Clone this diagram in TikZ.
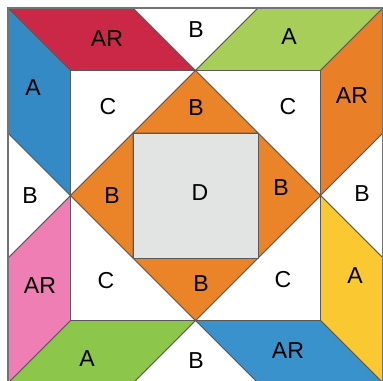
\documentclass[tikz,border=0pt]{standalone}
\usepackage{fontspec}
\setmainfont{Liberation Sans}
\definecolor{redAR}{RGB}{203,40,72}
\definecolor{blueA}{RGB}{52,138,196}
\definecolor{limeA}{RGB}{166,206,88}
\definecolor{orangeAR}{RGB}{233,128,40}
\definecolor{yellowA}{RGB}{250,200,48}
\definecolor{blueAR}{RGB}{58,146,204}
\definecolor{greenA}{RGB}{140,198,74}
\definecolor{pinkAR}{RGB}{238,126,180}
\definecolor{orangeB}{RGB}{235,132,40}
\definecolor{greyD}{RGB}{226,228,228}

\begin{document}
\begin{tikzpicture}[x=1cm,y=1cm,
  piece/.style={draw=black!65, line width=0.4pt, line join=round},
  lbl/.style={font=\fontsize{10.5}{12}\selectfont, inner sep=0pt}]
\useasboundingbox (-0.128,0.032) rectangle (6.0,6.128);
\fill[white] (-0.128,0.032) rectangle (6.0,6.128);
% outer ring, top
\filldraw[piece, fill=redAR] (0,6) -- (2,6) -- (3,5) -- (1,5) -- cycle;
\filldraw[piece, fill=white] (2,6) -- (4,6) -- (3,5) -- cycle;
\filldraw[piece, fill=limeA] (4,6) -- (6,6) -- (5,5) -- (3,5) -- cycle;
% right
\filldraw[piece, fill=orangeAR] (6,6) -- (6,4) -- (5,3) -- (5,5) -- cycle;
\filldraw[piece, fill=white] (6,4) -- (6,2) -- (5,3) -- cycle;
\filldraw[piece, fill=yellowA] (5,3) -- (6,2) -- (6,0) -- (5,1) -- cycle;
% bottom
\filldraw[piece, fill=blueAR] (6,0) -- (4,0) -- (3,1) -- (5,1) -- cycle;
\filldraw[piece, fill=white] (4,0) -- (2,0) -- (3,1) -- cycle;
\filldraw[piece, fill=greenA] (3,1) -- (2,0) -- (0,0) -- (1,1) -- cycle;
% left
\filldraw[piece, fill=pinkAR] (0,0) -- (0,2) -- (1,3) -- (1,1) -- cycle;
\filldraw[piece, fill=white] (0,2) -- (0,4) -- (1,3) -- cycle;
\filldraw[piece, fill=blueA] (1,3) -- (0,4) -- (0,6) -- (1,5) -- cycle;
% square in a square
\filldraw[piece, fill=white] (1,5) -- (3,5) -- (1,3) -- cycle;
\filldraw[piece, fill=white] (3,5) -- (5,5) -- (5,3) -- cycle;
\filldraw[piece, fill=white] (5,3) -- (5,1) -- (3,1) -- cycle;
\filldraw[piece, fill=white] (3,1) -- (1,1) -- (1,3) -- cycle;
\filldraw[piece, fill=orangeB] (2,4) -- (4,4) -- (3,5) -- cycle;
\filldraw[piece, fill=orangeB] (4,4) -- (4,2) -- (5,3) -- cycle;
\filldraw[piece, fill=orangeB] (4,2) -- (2,2) -- (3,1) -- cycle;
\filldraw[piece, fill=orangeB] (2,2) -- (2,4) -- (1,3) -- cycle;
\filldraw[piece, fill=greyD] (2,2) rectangle (4,4);
\draw[line width=0.8pt, black!55] (0,0) rectangle (6,6);
% labels
\node[lbl] (arTop) at (1.584,5.504) {AR};
\node[lbl] (bTop) at (3.008,5.648) {B};
\node[lbl] (aTop) at (4.496,5.536) {A};
\node[lbl] (aLeft) at (0.400,4.720) {A};
\node[lbl] (cTL) at (1.600,4.416) {C};
\node[lbl] (bInTop) at (3.008,4.400) {B};
\node[lbl] (cTR) at (4.480,4.416) {C};
\node[lbl] (arRight) at (5.504,4.592) {AR};
\node[lbl] (bLeft) at (0.352,2.992) {B};
\node[lbl] (bInLeft) at (1.664,2.992) {B};
\node[lbl] (dMid) at (3.072,3.040) {D};
\node[lbl] (bInRight) at (4.368,3.120) {B};
\node[lbl] (bRight) at (5.664,3.024) {B};
\node[lbl] (arLeft) at (0.512,1.552) {AR};
\node[lbl] (cBL) at (1.568,1.632) {C};
\node[lbl] (bInBot) at (3.088,1.584) {B};
\node[lbl] (cBR) at (4.400,1.648) {C};
\node[lbl] (aRight) at (5.552,1.712) {A};
\node[lbl] (aBot) at (1.264,0.384) {A};
\node[lbl] (bBot) at (3.008,0.352) {B};
\node[lbl] (arBot) at (4.480,0.512) {AR};
\end{tikzpicture}
\end{document}
